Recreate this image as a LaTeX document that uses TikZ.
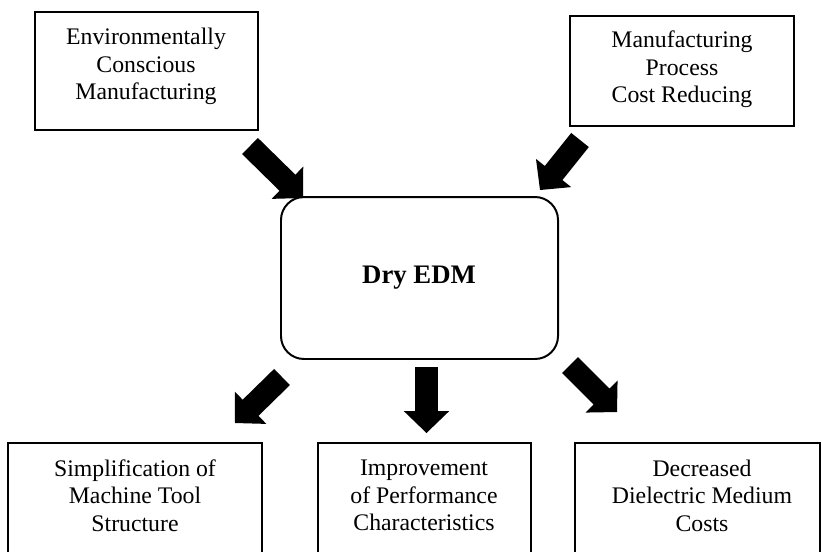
\documentclass[tikz,border=0pt]{standalone}
\usepackage{fontspec}
\setmainfont{Liberation Serif}
\usetikzlibrary{calc}
\newcommand\blockarrow[2]{%
  \coordinate (#2-base) at ($(#2)!11pt!(#1)$);
  \fill ($(#1)!5.7pt!90:(#2)$) -- ($(#2-base)!5.7pt!90:(#2)$) -- ($(#2-base)!11.4pt!90:(#2)$) -- (#2)
     -- ($(#2-base)!11.4pt!-90:(#2)$) -- ($(#2-base)!5.7pt!-90:(#2)$) -- ($(#1)!5.7pt!-90:(#2)$) -- cycle;}
\begin{document}
\begin{tikzpicture}[x=0.505pt,y=-0.505pt,
  box/.style={draw, line width=1pt, inner sep=0pt},
  lbl/.style={align=center, font=\fontsize{12}{13.9}\selectfont, inner sep=0pt},
  core/.style={draw, line width=1pt, rounded corners=11.6pt, inner sep=0pt,
    minimum width=139.9pt, minimum height=81.8pt}]
\useasboundingbox (0,0) rectangle (822,551);
\clip (0,0) rectangle (822,551);
% top boxes
\node[box, minimum width=112.6pt, minimum height=59.6pt] (ecm) at (146.5,71) {};
\node[lbl] (ecmt) at (146,66.5) {Environmentally\\Conscious\\Manufacturing};
\node[box, minimum width=113.1pt, minimum height=55.6pt] (mpc) at (682,71) {};
\node[lbl] (mpct) at (682,69.5) {Manufacturing\\Process\\Cost Reducing};
% core
\node[core] (dry) at (419.5,278) {};
\node[anchor=base, inner sep=0pt, font=\fontsize{13.5}{16}\selectfont\bfseries] (dryt) at (419,283) {Dry EDM};
% bottom boxes
\node[box, minimum width=128.3pt, minimum height=79.3pt] (smt) at (135,521.5) {};
\node[lbl] (smtt) at (135,495.4) {Simplification of\\Machine Tool\\Structure};
\node[box, minimum width=107.6pt, minimum height=79.3pt] (ipc) at (424.5,521.5) {};
\node[lbl] (ipct) at (424,495.7) {Improvement\\of Performance\\Characteristics};
\node[box, minimum width=123.7pt, minimum height=79.3pt] (ddm) at (697.5,521.5) {};
\node[lbl] (ddmt) at (702,495.4) {Decreased\\Dielectric Medium\\Costs};
% arrow ends
\coordinate (a1s) at (250,146); \coordinate (a1e) at (303,198);
\coordinate (a2s) at (580,140); \coordinate (a2e) at (540,190);
\coordinate (a3s) at (282,377); \coordinate (a3e) at (235,423);
\coordinate (a4s) at (426.5,367); \coordinate (a4e) at (426.5,433);
\coordinate (a5s) at (570,365); \coordinate (a5e) at (617,412);
\blockarrow{a1s}{a1e}
\blockarrow{a2s}{a2e}
\blockarrow{a3s}{a3e}
\blockarrow{a4s}{a4e}
\blockarrow{a5s}{a5e}
\end{tikzpicture}
\end{document}
